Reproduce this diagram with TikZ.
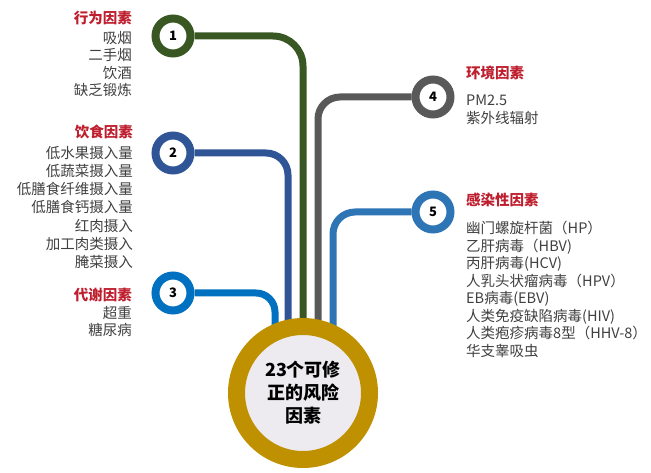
\documentclass[tikz,border=0pt]{standalone}
\usepackage{fontspec}
\setmainfont{Noto Sans CJK SC}
\usepackage{xcolor}
\usetikzlibrary{positioning,backgrounds}
\definecolor{lineA}{HTML}{385723}
\definecolor{lineB}{HTML}{2F5597}
\definecolor{lineC}{HTML}{0070C0}
\definecolor{lineD}{HTML}{595959}
\definecolor{lineE}{HTML}{2E75B6}
\definecolor{hubring}{HTML}{BF9000}
\definecolor{hubfill}{HTML}{EDEBF0}
\definecolor{headred}{HTML}{BE1E2D}
\definecolor{itemgrey}{HTML}{404040}

\begin{document}
\begin{tikzpicture}[x=1pt, y=-1pt]
\tikzstyle{stop} = [circle, draw, line width=8pt, fill=white, minimum size=35pt, inner sep=0pt, font=\bfseries\fontsize{13}{13}\selectfont]
\tikzstyle{track} = [line width=7pt, rounded corners=22pt]
\tikzstyle{head} = [text=headred, inner sep=0pt, font=\bfseries\fontsize{14.5}{17}\selectfont]
\tikzstyle{items} = [text=itemgrey, inner sep=0pt, font=\fontsize{14.5}{17.5}\selectfont]
\useasboundingbox (0,0) rectangle (651,473);
% hub and stops
\node [circle, draw=hubring, line width=17pt, fill=hubfill, minimum size=133pt, inner sep=0pt, align=center, font=\bfseries\fontsize{18}{23}\selectfont] (hub) at (303,393) {23个可修\\正的风险\\因素};
\node [stop, draw=lineA] (s1) at (173,36) {1};
\node [stop, draw=lineB] (s2) at (173,153) {2};
\node [stop, draw=lineC] (s3) at (173,293) {3};
\node [stop, draw=lineD] (s4) at (433,97) {4};
\node [stop, draw=lineE] (s5) at (433,212) {5};
% left texts
\node [head, anchor=east] (h1) at (132,18) {行为因素};
\node [items, anchor=north east, align=right] (l1) at (132,31) {吸烟\\二手烟\\饮酒\\缺乏锻炼};
\node [head, anchor=east] (h2) at (133,132) {饮食因素};
\node [items, anchor=north east, align=right, font=\fontsize{14.5}{18.2}\selectfont] (l2) at (133,146) {低水果摄入量\\低蔬菜摄入量\\低膳食纤维摄入量\\低膳食钙摄入量\\红肉摄入\\加工肉类摄入\\腌菜摄入};
\node [head, anchor=east] (h3) at (132,295) {代谢因素};
\node [items, anchor=north east, align=right] (l3) at (132,306) {超重\\糖尿病};
% right texts
\node [head, anchor=west] (h4) at (466,73) {环境因素};
\node [items, anchor=north west, align=left] (l4) at (466,95) {PM2.5\\紫外线辐射};
\node [head, anchor=west] (h5) at (466,200) {感染性因素};
\node [items, anchor=north west, align=left] (l5) at (466,221) {幽门螺旋杆菌（HP）\\乙肝病毒（HBV)\\丙肝病毒(HCV)\\人乳头状瘤病毒（HPV）\\EB病毒(EBV)\\人类免疫缺陷病毒(HIV)\\人类疱疹病毒8型（HHV-8）\\华支睾吸虫};
% tracks
\begin{scope}[on background layer]
\draw [track, lineA, rounded corners=30pt] (s1) -| (hub);
\draw [track, lineB] (s2) -| ([xshift=-15pt]hub.center);
\draw [track, lineC, rounded corners=19pt] (s3) -| ([xshift=-28pt]hub.center);
\draw [track, lineD] (s4) -| ([xshift=15pt]hub.center);
\draw [track, lineE] (s5) -| ([xshift=30pt]hub.center);
\end{scope}
\end{tikzpicture}
\end{document}
